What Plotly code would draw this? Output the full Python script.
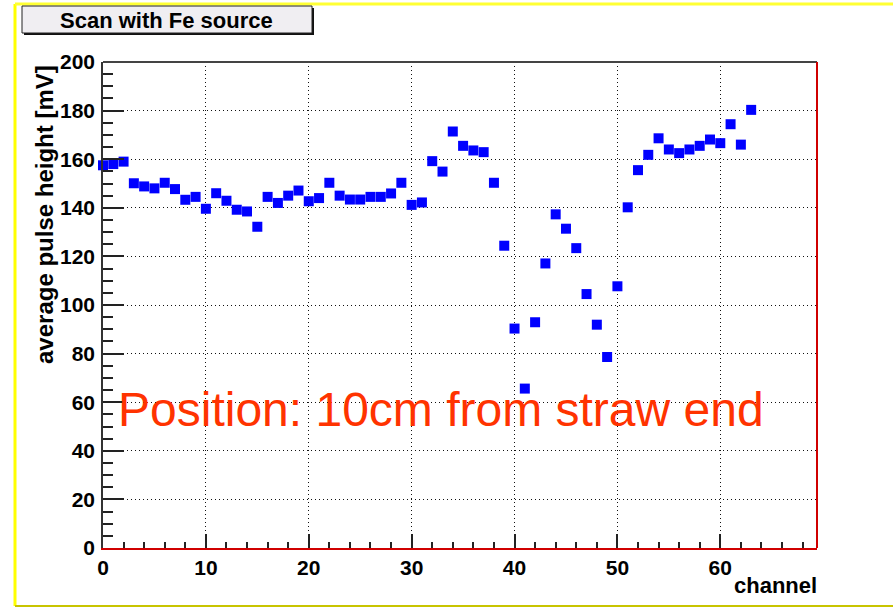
import plotly.graph_objects as go

channels = list(range(64))
pulse_height = [
    157.5, 158.0, 159.0, 150.1, 148.8, 148.0, 150.3, 147.7, 143.3, 144.5,
    139.6, 146.0, 142.9, 139.2, 138.5, 132.2, 144.5, 142.0, 145.0, 147.1,
    142.7, 144.0, 150.3, 145.0, 143.4, 143.4, 144.5, 144.5, 145.9, 150.3,
    141.2, 142.2, 159.2, 154.9, 171.4, 165.5, 163.6, 162.9, 150.3, 124.4,
    90.3, 65.6, 92.9, 117.1, 137.3, 131.4, 123.4, 104.5, 91.9, 78.6,
    107.7, 140.2, 155.5, 161.8, 168.6, 164.0, 162.5, 164.0, 165.5, 168.1,
    166.6, 174.4, 166.0, 180.3,
]
x_ticks = [0, 10, 20, 30, 40, 50, 60]
y_ticks = [0, 20, 40, 60, 80, 100, 120, 140, 160, 180, 200]

W, H = 893, 607
L, R, T, B = 103, 817, 62, 548


def px(x):
    return (x - L) / (R - L)


def py(y):
    return (B - y) / (B - T)


fig = go.Figure()
fig.add_trace(go.Scatter(
    x=channels, y=pulse_height, mode="markers",
    marker=dict(symbol="square", size=10, color="#0000ff", line=dict(width=0)),
    showlegend=False, cliponaxis=False,
))

tickfont = dict(family="Liberation Sans, Arial", size=21, color="black", weight="bold")

fig.update_layout(
    width=W, height=H,
    margin=dict(l=L, r=W - R, t=T, b=H - B),
    paper_bgcolor="white", plot_bgcolor="white",
    xaxis=dict(
        range=[0, 69.4], tickvals=x_ticks, ticks="inside", ticklen=14, tickwidth=1.5,
        tickcolor="#222", showgrid=True, gridcolor="#111", griddash="1px,3px", gridwidth=1,
        showline=True, linecolor="#d00000", linewidth=2, zeroline=False,
        tickfont=tickfont, ticklabelstandoff=0,
        minor=dict(dtick=2, ticks="inside", ticklen=6, tickcolor="#222", showgrid=False),
    ),
    yaxis=dict(
        range=[0, 200], tickvals=y_ticks, ticks="inside", ticklen=21, tickwidth=1.5,
        tickcolor="#222", showgrid=True, gridcolor="#111", griddash="1px,3px", gridwidth=1,
        showline=True, linecolor="#333", linewidth=1.5, zeroline=False,
        tickfont=tickfont, ticklabelstandoff=2,
        minor=dict(dtick=5, ticks="inside", ticklen=10, tickcolor="#222", showgrid=False),
    ),
)

shapes = [
    # frame top and right
    dict(type="line", xref="paper", yref="paper", x0=0, x1=1, y0=1, y1=1,
         line=dict(color="#444", width=2)),
    dict(type="line", xref="paper", yref="paper", x0=1, x1=1, y0=0, y1=1,
         line=dict(color="#d00000", width=2)),
    # yellow outer border
    dict(type="line", xref="paper", yref="paper", x0=px(15), x1=px(15), y0=py(606), y1=py(4),
         line=dict(color="#ffff00", width=3)),
    dict(type="line", xref="paper", yref="paper", x0=px(15), x1=px(900), y0=py(4), y1=py(4),
         line=dict(color="#ffff33", width=3)),
    dict(type="line", xref="paper", yref="paper", x0=px(15), x1=px(900), y0=py(606), y1=py(606),
         line=dict(color="#c8c400", width=2)),
    # title box shadow and box
    dict(type="rect", xref="paper", yref="paper", x0=px(24), x1=px(314), y0=py(35), y1=py(8),
         fillcolor="#111", line=dict(width=0)),
    dict(type="rect", xref="paper", yref="paper", x0=px(22), x1=px(312), y0=py(33), y1=py(6),
         fillcolor="#f0eef2", line=dict(color="#222", width=1)),
]
fig.update_layout(shapes=shapes)

annotations = [
    dict(text="<b>Scan with Fe source</b>", x=px(166), y=py(20), xref="paper", yref="paper",
         showarrow=False, xanchor="center", yanchor="middle",
         font=dict(family="Liberation Sans, Arial", size=22, color="black")),
    dict(text="<b>average pulse height [mV]</b>", x=px(45), y=py(215), xref="paper", yref="paper",
         showarrow=False, xanchor="center", yanchor="middle", textangle=-90,
         font=dict(family="Liberation Sans, Arial", size=24, color="black")),
    dict(text="<b>channel</b>", x=px(819), y=py(585), xref="paper", yref="paper",
         showarrow=False, xanchor="right", yanchor="middle",
         font=dict(family="Liberation Sans, Arial", size=22, color="black")),
    dict(text="Position: 10cm from straw end", x=px(116), y=py(409), xref="paper", yref="paper",
         showarrow=False, xanchor="left", yanchor="middle",
         font=dict(family="Liberation Sans, Arial", size=48, color="#ff3300")),
]
fig.update_layout(annotations=annotations)

fig.write_html("out.html")
